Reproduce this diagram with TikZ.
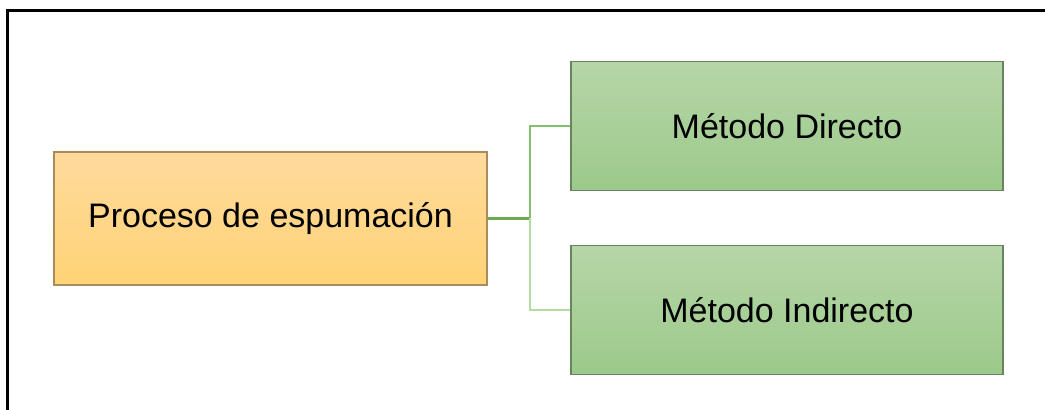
\documentclass[tikz,border=0pt]{standalone}
\usepackage{fontspec}
\setmainfont{Liberation Sans}
\definecolor{procTop}{RGB}{255,218,156}
\definecolor{procBot}{RGB}{255,211,118}
\definecolor{procLine}{RGB}{170,140,92}
\definecolor{metTop}{RGB}{182,214,168}
\definecolor{metBot}{RGB}{156,201,138}
\definecolor{metLine}{RGB}{104,132,94}
\definecolor{linkDark}{RGB}{106,170,80}
\definecolor{linkMid}{RGB}{132,192,108}
\definecolor{linkLight}{RGB}{180,220,162}
\begin{document}
\begin{tikzpicture}[x=0.5pt,y=-0.5pt,
    every node/.style={inner sep=0pt,font=\fontsize{17pt}{20pt}\selectfont}]
    \useasboundingbox (0,0) rectangle (1045,410);
    % frame
    \draw [line width=1.5pt] (7.5,410) -- (7.5,11) -- (1045,11);

\begin{scope}[every node/.style={draw=procLine,line width=0.9pt,
              top color=procTop,bottom color=procBot,
              minimum width=216.5pt,minimum height=66.5pt,inner sep=0pt,
              font=\fontsize{17pt}{20pt}\selectfont}]
    \node (proc) at (270.5,218.5) {Proceso de espumación};
\end{scope}

\begin{scope}[every node/.style={draw=metLine,line width=0.9pt,
              top color=metTop,bottom color=metBot,
              minimum width=216pt,minimum height=64.5pt,inner sep=0pt,
              font=\fontsize{17pt}{20pt}\selectfont}]
    \node (directo) at (787,126) {Método Directo};
    \node (indirecto) at (787,310) {Método Indirecto};
\end{scope}

    \coordinate (fork) at (530,218.5);

    \draw [linkDark,line width=1.6pt] (proc.east) -- (fork);
    \draw [linkMid,line width=1.2pt] (fork) |- (directo.west);
    \draw [linkLight,line width=1.2pt] (fork) |- (indirecto.west);
\end{tikzpicture}
\end{document}
